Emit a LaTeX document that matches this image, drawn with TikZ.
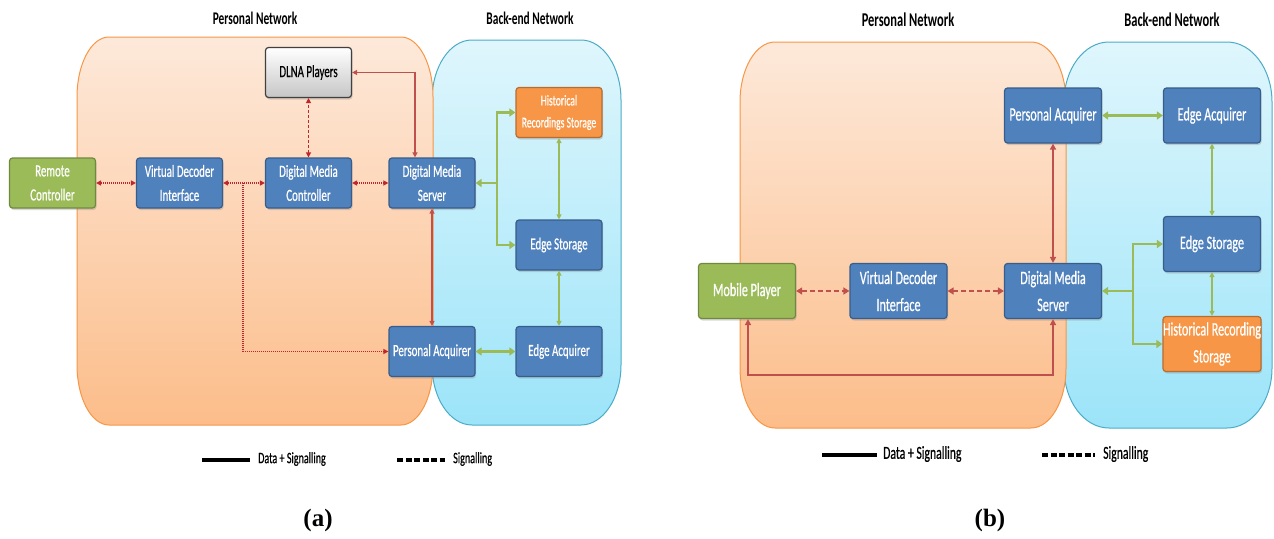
\documentclass[tikz,border=0pt]{standalone}
\usepackage{fontspec}
\setmainfont{Carlito}
\newfontfamily\cond[FakeStretch=0.64]{Carlito}
\newfontfamily\condm[FakeStretch=0.64,FakeBold=0.6]{Carlito}
\newfontfamily\capserif{Liberation Serif}
\usetikzlibrary{arrows.meta,shadows,calc}
\definecolor{boxblue}{HTML}{4F81BD}
\definecolor{boxbluebd}{HTML}{385D8A}
\definecolor{boxgreen}{HTML}{9BBB59}
\definecolor{boxgreenbd}{HTML}{71893F}
\definecolor{boxorange}{HTML}{F79646}
\definecolor{boxorangebd}{HTML}{B66D31}
\definecolor{lnred}{HTML}{C0504D}
\definecolor{sigred}{HTML}{C0262B}
\definecolor{lngreen}{HTML}{9BBB59}
\definecolor{regOtop}{HTML}{FDE9DA}
\definecolor{regObot}{HTML}{FCBD8A}
\definecolor{regObd}{HTML}{F79646}
\definecolor{regBtop}{HTML}{DFF6FC}
\definecolor{regBbot}{HTML}{9CE4F9}
\definecolor{regBbd}{HTML}{4BACC6}
\newcommand\eregion[6]{%
  (#1+#5,#2) -- (#3-#5,#2)
  arc[start angle=-90,end angle=0,x radius=#5,y radius=#6]
  -- (#3,#4-#6)
  arc[start angle=0,end angle=90,x radius=#5,y radius=#6]
  -- (#1+#5,#4)
  arc[start angle=90,end angle=180,x radius=#5,y radius=#6]
  -- (#1,#2+#6)
  arc[start angle=180,end angle=270,x radius=#5,y radius=#6] -- cycle}
\tikzset{
  >={Triangle[length=5pt,width=5pt]},
  box/.style={rounded corners=3pt, line width=1.2pt, draw=boxbluebd, fill=boxblue,
    text=white, align=center, inner sep=0pt, minimum width=86pt, minimum height=50pt,
    font=\condm\fontsize{17}{24}\selectfont,
    drop shadow={opacity=0.3, shadow xshift=1pt, shadow yshift=-2pt}},
  boxb/.style={box, minimum width=97pt, minimum height=55pt, font=\condm\fontsize{19}{27}\selectfont},
  greenbox/.style={fill=boxgreen, draw=boxgreenbd},
  orangebox/.style={fill=boxorange, draw=boxorangebd},
  graybox/.style={top color=white, bottom color=gray!45, draw=black!75, text=black},
  title/.style={font=\cond\bfseries\fontsize{17.8}{20}\selectfont, inner sep=0pt},
  legtext/.style={font=\condm\fontsize{15.8}{17}\selectfont, anchor=west, inner sep=0pt},
  caption/.style={font=\capserif\bfseries\fontsize{25}{27}\selectfont, inner sep=0pt},
  sigA/.style={draw=sigred, line width=1.8pt, dash pattern=on 1.2pt off 0.8pt, <->},
  sigAv/.style={draw=sigred, line width=1.2pt, dash pattern=on 3pt off 2pt, <->},
  dataR/.style={draw=lnred, line width=1.6pt, <->},
  sigB/.style={draw=lnred, line width=2.6pt, dash pattern=on 5pt off 3pt, <->,
    >={Triangle[length=6pt,width=7pt]}},
  dataB/.style={draw=lnred, line width=2pt, <->, >={Triangle[length=6pt,width=6pt]}},
  gThick/.style={draw=lngreen, line width=2.6pt, >={Triangle[length=6pt,width=8pt]}},
  gThin/.style={draw=lngreen, line width=1.2pt, <->},
  regO/.style={draw=regObd, line width=1pt, top color=regOtop, bottom color=regObot},
  regB/.style={draw=regBbd, line width=1pt, top color=regBtop, bottom color=regBbot},
  legsolid/.style={line width=4pt, black},
  legdash/.style={line width=4pt, black, dash pattern=on 6pt off 2.5pt},
}
\begin{document}
\begin{tikzpicture}[x=1pt,y=-1pt]
\useasboundingbox (0,0) rectangle (1274,538);
% ---------- panel (a) ----------
\path[regB] \eregion{432}{40}{621}{425}{40}{60};
\path[regO] \eregion{77}{37}{433}{425}{32}{60};
\node[title] (tpa) at (255,18) {Personal Network};
\node[title] (tba) at (530,18) {Back-end Network};

\node[box,graybox] (dlna) at (308.5,72.5) {DLNA Players};
\node[box,greenbox] (rc) at (52.5,183) {Remote\\Controller};
\node[box] (vdi) at (179.5,183) {Virtual Decoder\\Interface};
\node[box] (dmc) at (308.5,183) {Digital Media\\Controller};
\node[box] (dms) at (432,183) {Digital Media\\Server};
\node[box,orangebox,font=\condm\fontsize{15}{22}\selectfont] (hrs) at (559,112.5) {Historical\\Recordings Storage};
\node[box] (es) at (559,245) {Edge Storage};
\node[box] (pa) at (432,351.5) {Personal Acquirer};
\node[box] (ea) at (559,351.5) {Edge Acquirer};

\draw[sigA] (rc) -- (vdi);
\draw[sigA] (vdi) -- (dmc);
\draw[sigA] (dmc) -- (dms);
\coordinate (ja) at (243,183);
\draw[sigA,-{Triangle[length=5pt,width=5pt]}] (ja) |- (pa);
\draw[sigAv] (dmc) -- (dlna);
\draw[dataR] ([xshift=-17pt]dms.north) |- (dlna);
\draw[dataR] (dms) -- (pa);
\coordinate (ga) at (497,183);
\draw[gThick,<-] (dms) -- (ga);
\draw[gThick,->] (ga) |- (hrs);
\draw[gThick,->] (ga) |- (es);
\draw[gThin] (hrs) -- (es);
\draw[gThin] (es) -- (ea);
\draw[gThick,<->] (pa) -- (ea);

\coordinate (la1) at (202,460);
\coordinate (la2) at (250,460);
\coordinate (la3) at (397,460);
\coordinate (la4) at (445,460);
\draw[legsolid] (la1) -- (la2);
\node[legtext] (lta) at (258,459) {Data + Signalling};
\draw[legdash] (la3) -- (la4);
\node[legtext] (ltb) at (453,459) {Signalling};
\node[caption] (capa) at (318,520) {(a)};

% ---------- panel (b) ----------
\path[regB] \eregion{1064}{42}{1272}{428}{45}{60};
\path[regO] \eregion{740}{42}{1066}{428}{35}{60};
\node[title,font=\cond\bfseries\fontsize{19.5}{21}\selectfont] (tpb) at (908,20) {Personal Network};
\node[title,font=\cond\bfseries\fontsize{19.5}{21}\selectfont] (tbb) at (1172,20) {Back-end Network};

\node[boxb] (pa2) at (1053,115.5) {Personal Acquirer};
\node[boxb] (ea2) at (1212,115.5) {Edge Acquirer};
\node[boxb] (es2) at (1212,244) {Edge Storage};
\node[boxb,greenbox] (mp) at (747,291) {Mobile Player};
\node[boxb] (vdi2) at (898.5,291) {Virtual Decoder\\Interface};
\node[boxb] (dms2) at (1053,291) {Digital Media\\Server};
\node[boxb,orangebox] (hrs2) at (1212,344) {Historical Recording\\Storage};

\draw[sigB] (mp) -- (vdi2);
\draw[sigB] (vdi2) -- (dms2);
\draw[dataB] (pa2) -- (dms2);
\coordinate (rb1) at (748,375);
\coordinate (rb2) at (1053,375);
\draw[dataB] (mp.south -| rb1) -- (rb1) -- (rb2) -- (dms2.south -| rb2);
\draw[gThick,<->] (pa2) -- (ea2);
\draw[gThin] (ea2) -- (es2);
\draw[gThin] (es2) -- (hrs2);
\coordinate (gb) at (1133,291);
\draw[gThick,<-] (dms2) -- (gb);
\draw[gThick,->] (gb) |- (es2);
\draw[gThick,->] (gb) |- (hrs2);

\coordinate (lb1) at (822,455);
\coordinate (lb2) at (877,455);
\coordinate (lb3) at (1042,455);
\coordinate (lb4) at (1095,455);
\draw[legsolid] (lb1) -- (lb2);
\node[legtext,font=\condm\fontsize{18.3}{20}\selectfont] (ltc) at (883,454) {Data + Signalling};
\draw[legdash] (lb3) -- (lb4);
\node[legtext,font=\condm\fontsize{18.3}{20}\selectfont] (ltd) at (1103,454) {Signalling};
\node[caption] (capb) at (990,520) {(b)};
\end{tikzpicture}
\end{document}
